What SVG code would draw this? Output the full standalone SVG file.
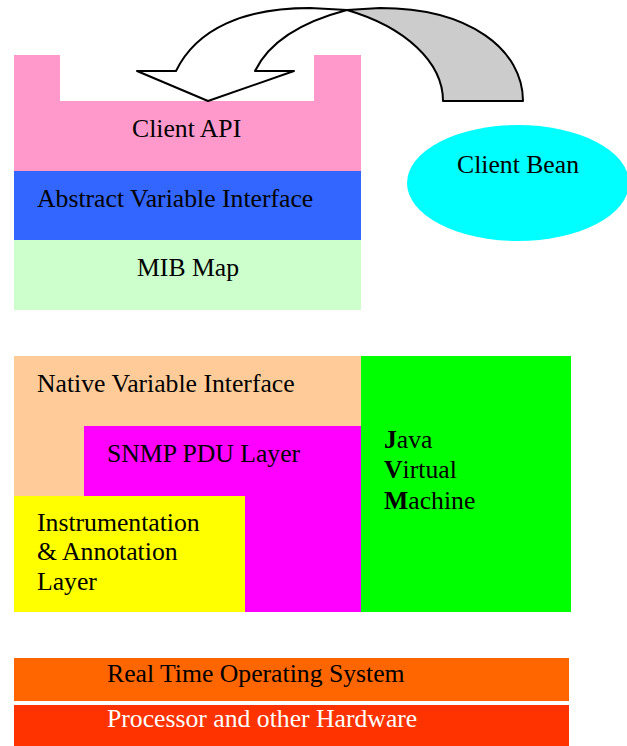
<svg xmlns="http://www.w3.org/2000/svg" width="627" height="746" viewBox="0 0 627 746">
<style>
text{font-family:'Liberation Serif','Times New Roman',serif;font-size:25.7px;fill:#000}
.w{fill:#fff}
.arr{stroke:#000;stroke-width:2;stroke-linejoin:round}
</style>
<rect width="627" height="746" fill="#fff"/>
<g id="client-api">
<path d="M14,55 H60 V101 H314 V55 H361 V171 H14 Z" fill="#FF99CC"/>
<text x="132" y="137">Client API</text>
</g>
<g id="abstract-variable-interface">
<rect x="14" y="171" width="347" height="69" fill="#3366FF"/>
<text x="37" y="207">Abstract Variable Interface</text>
</g>
<g id="mib-map">
<rect x="14" y="240" width="347" height="70" fill="#CCFFCC"/>
<text x="137" y="276">MIB Map</text>
</g>
<g id="client-bean">
<ellipse cx="518" cy="183" rx="111" ry="58" fill="#00FFFF"/>
<text x="457" y="173">Client Bean</text>
</g>
<g id="native-variable-interface">
<rect x="14" y="356" width="347" height="140" fill="#FFCC99"/>
<text x="37" y="392">Native Variable Interface</text>
</g>
<g id="snmp-pdu-layer">
<rect x="84" y="426" width="277" height="186" fill="#FF00FF"/>
<text x="107" y="462">SNMP PDU Layer</text>
</g>
<g id="instrumentation-layer">
<rect x="14" y="496" width="231" height="116" fill="#FFFF00"/>
<text x="37" y="531">Instrumentation</text>
<text x="37" y="560">&amp; Annotation</text>
<text x="37" y="590">Layer</text>
</g>
<g id="jvm">
<rect x="361" y="356" width="210" height="256" fill="#00FF00"/>
<text x="384" y="448"><tspan font-weight="bold">J</tspan>ava</text>
<text x="384" y="478"><tspan font-weight="bold">V</tspan>irtual</text>
<text x="384" y="509"><tspan font-weight="bold">M</tspan>achine</text>
</g>
<g id="rtos">
<rect x="14" y="658" width="555" height="43" fill="#FF6600"/>
<text x="107" y="682">Real Time Operating System</text>
</g>
<g id="hardware">
<rect x="14" y="705" width="555" height="41" fill="#FF3300"/>
<text class="w" x="107" y="727">Processor and other Hardware</text>
</g>
<g id="connectors">
<path class="arr" fill="#CCCCCC" d="M347,10 L380,8 C470,8 523,50 523,101 L443,101 C443,62 405,27 347,10 Z"/>
<path class="arr" fill="#fff" d="M137,71 L176,71 C197,28 245,8 310,8 L347,10 C305,21 270,40 255,71 L294,71 L208,101 Z"/>
</g>
</svg>
